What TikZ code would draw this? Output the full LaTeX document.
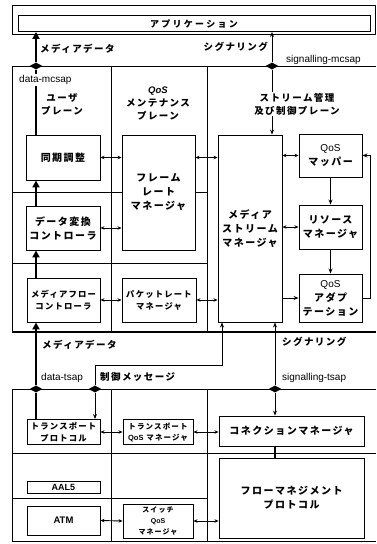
\documentclass[tikz,border=0pt]{standalone}
\usepackage{fontspec}
\setmainfont{Liberation Sans}
\newfontfamily\jp[LetterSpace=15]{Noto Sans CJK JP}
\usetikzlibrary{arrows.meta, shapes.geometric}
\tikzset{box/.style={draw, line width=0.9pt, fill=white, align=center, inner sep=0pt, font=\jp\bfseries\fontsize{10}{14}\selectfont}}
\tikzset{smallbox/.style={box, font=\jp\bfseries\fontsize{8.3}{12}\selectfont}}
\tikzset{wall/.style={line width=0.8pt}}
\tikzset{datapath/.style={line width=2.6pt}}
\tikzset{link/.style={{Stealth[length=4pt,width=3.5pt]}-{Stealth[length=4pt,width=3.5pt]}, line width=0.9pt}}
\tikzset{sigpath/.style={-{Stealth[length=5pt,width=4pt]}, line width=0.9pt}}
\tikzset{sap/.style={diamond, fill, inner sep=0pt, minimum width=13pt, minimum height=7pt}}
\tikzset{jlabel/.style={inner sep=1pt, fill=white, font=\jp\bfseries\fontsize{9.5}{12}\selectfont}}
\tikzset{plane/.style={align=center, inner sep=1pt, fill=white, font=\jp\bfseries\fontsize{9.5}{13}\selectfont}}
\tikzset{saplabel/.style={inner sep=1pt, fill=white, font=\fontsize{10}{12}\selectfont}}

\begin{document}
\begin{tikzpicture}[x=1pt, y=-1pt]
            \useasboundingbox (0,0) rectangle (376,544);
            % application
            \draw[wall] (12,5) rectangle (375,34);
            \node[box, minimum width=352, minimum height=16, font=\jp\bfseries\fontsize{9}{11}\selectfont\addfontfeature{LetterSpace=25}] (app) at (194,23.5) {アプリケーション};
            % upper and lower frames
            \draw[wall] (376,66) -| (12,332);
            \draw[line width=1.4pt] (12,332) -- (376,332);
            \foreach \x in {111,207} \draw[wall] (\x,66) -- (\x,332);
            \foreach \y in {192,263} \draw[wall] (12,\y) -- (207,\y);
            \draw[wall] (376,389) -| (12,541) -- (376,541);
            \foreach \x in {111,207} \draw[wall] (\x,389) -- (\x,541);
            \draw[wall] (12,453) -- (376,453);
            \draw[wall] (12,498) -- (207,498);
            % boxes
            \node[box, minimum width=74, minimum height=45] (sync) at (63,157.5) {同期調整};
            \node[box, minimum width=74, minimum height=44] (dconv) at (63,228) {データ変換\\コントローラ};
            \node[smallbox, minimum width=73, minimum height=44] (flowctl) at (63.5,300) {メディアフロー\\コントローラ};
            \node[box, minimum width=73, minimum height=115] (frate) at (158.5,192.5) {フレーム\\レート\\マネージャ};
            \node[smallbox, minimum width=74, minimum height=44] (prate) at (159,300) {パケットレート\\マネージャ};
            \node[box, minimum width=64, minimum height=187] (smgr) at (250,228.5) {メディア\\ストリーム\\マネージャ};
            \node[box, minimum width=63, minimum height=43] (mapper) at (330.5,155.5) {{\rmfamily\mdseries QoS}\\マッパー};
            \node[box, minimum width=63, minimum height=44] (resmgr) at (330.5,227) {リソース\\マネージャ};
            \node[box, minimum width=63, minimum height=48] (adapt) at (330.5,298) {{\rmfamily\mdseries QoS}\\アダプ\\テーション};
            \node[smallbox, minimum width=73, minimum height=25] (tproto) at (63.5,432) {トランスポート\\プロトコル};
            \node[smallbox, minimum width=70, minimum height=25, font=\jp\bfseries\fontsize{7.5}{11}\selectfont] (tqos) at (158,432) {トランスポート\\{\rmfamily QoS} マネージャ};
            \node[box, minimum width=145, minimum height=30] (conn) at (291.5,431) {コネクションマネージャ};
            \node[box, minimum width=73, minimum height=12, font=\bfseries\fontsize{9}{10}\selectfont] (aal5) at (63.5,487) {AAL5};
            \node[box, minimum width=73, minimum height=29, font=\bfseries\fontsize{9.5}{10}\selectfont] (atm) at (63.5,520.5) {ATM};
            \node[smallbox, minimum width=70, minimum height=34, font=\jp\bfseries\fontsize{7}{11}\selectfont] (sqos) at (158,521) {スイッチ\\{\rmfamily QoS}\\マネージャ};
            \node[box, minimum width=145, minimum height=80] (fmp) at (291.5,498) {フローマネジメント\\プロトコル};
            % service access points
            \node[sap] (dmcsap) at (36,66) {};
            \node[sap] (smcsap) at (272,66) {};
            \node[sap] (dtsap) at (36,389) {};
            \node[sap] (ctsap) at (95,389) {};
            \node[sap] (stsap) at (275,389) {};
            \coordinate (bend) at (222,365);
            % data paths
            \draw[datapath, -{Triangle[length=7pt,width=7pt]}] (dmcsap) -- (dmcsap |- app.south);
            \draw[datapath] (dmcsap) -- (dmcsap |- sync.north);
            \draw[datapath, -{Triangle[length=7pt,width=7pt]}] (dmcsap |- dconv.north) -- (dmcsap |- sync.south);
            \draw[datapath, -{Triangle[length=7pt,width=7pt]}] (dmcsap |- flowctl.north) -- (dmcsap |- dconv.south);
            \draw[datapath, -{Triangle[length=7pt,width=7pt]}] (dtsap) -- (dtsap |- flowctl.south);
            \draw[datapath] (dtsap) -- (dtsap |- tproto.north);
            % signalling and control
            \draw[sigpath] (smcsap) -- (smcsap |- app.south);
            \draw[sigpath] (smcsap) -- (smcsap |- smgr.north);
            \draw[sigpath] (stsap) -- (stsap |- smgr.south);
            \draw[sigpath] (stsap) -- (stsap |- conn.north);
            \draw[line width=1.6pt] (stsap |- conn.south) -- (stsap |- fmp.north);
            \draw[sigpath] (ctsap) |- (bend) -- (bend |- smgr.south);
            \draw[sigpath] (ctsap) -- (ctsap |- tproto.north);
            % links between managers
            \draw[link] (sync.east) -- (sync.east -| frate.west);
            \draw[link] (dconv.east) -- (dconv.east -| frate.west);
            \draw[link] (sync.east -| frate.east) -- (sync.east -| smgr.west);
            \draw[link] (flowctl.east) -- (prate.west);
            \draw[link] (prate.east) -- (prate.east -| smgr.west);
            \draw[link] (mapper.west -| smgr.east) -- (mapper.west);
            \draw[link] (resmgr.west -| smgr.east) -- (resmgr.west);
            \draw[sigpath] (adapt.west -| smgr.east) -- (adapt.west);
            \draw[sigpath] (mapper.south) -- (resmgr.north);
            \draw[sigpath] (resmgr.south) -- (adapt.north);
            \draw[sigpath] (adapt.east) -- ++(8,0) |- (mapper.east);
            \draw[link] (tproto.east) -- (tqos.west);
            \draw[link] (tqos.east) -- (tqos.east -| conn.west);
            \draw[link] (atm.east) -- (sqos.west);
            \draw[link] (sqos.east) -- (sqos.east -| fmp.west);
            % labels
            \node[jlabel, anchor=west] (mdata1) at (39,49) {メディアデータ};
            \node[jlabel, anchor=east] (sig1) at (269,47) {シグナリング};
            \node[saplabel, anchor=west] (smcsapL) at (285,60) {signalling-mcsap};
            \node[saplabel, anchor=west] (dmcsapL) at (18,80) {data-mcsap};
            \node[plane] (uplane) at (62,104) {ユーザ\\プレーン};
            \node[plane] (qplane) at (158,103) {{\rmfamily\bfseries\itshape QoS}\\メンテナンス\\プレーン};
            \node[plane] (splane) at (297,104) {ストリーム管理\\及び制御プレーン};
            \node[jlabel, anchor=west] (mdata2) at (41,345) {メディアデータ};
            \node[saplabel, anchor=west] (dtsapL) at (40,378) {data-tsap};
            \node[jlabel, anchor=west] (ctrl) at (99,377) {制御メッセージ};
            \node[jlabel, anchor=west] (sig2) at (281,342) {シグナリング};
            \node[saplabel, anchor=west] (stsapL) at (281,378) {signalling-tsap};
        \end{tikzpicture}
\end{document}
